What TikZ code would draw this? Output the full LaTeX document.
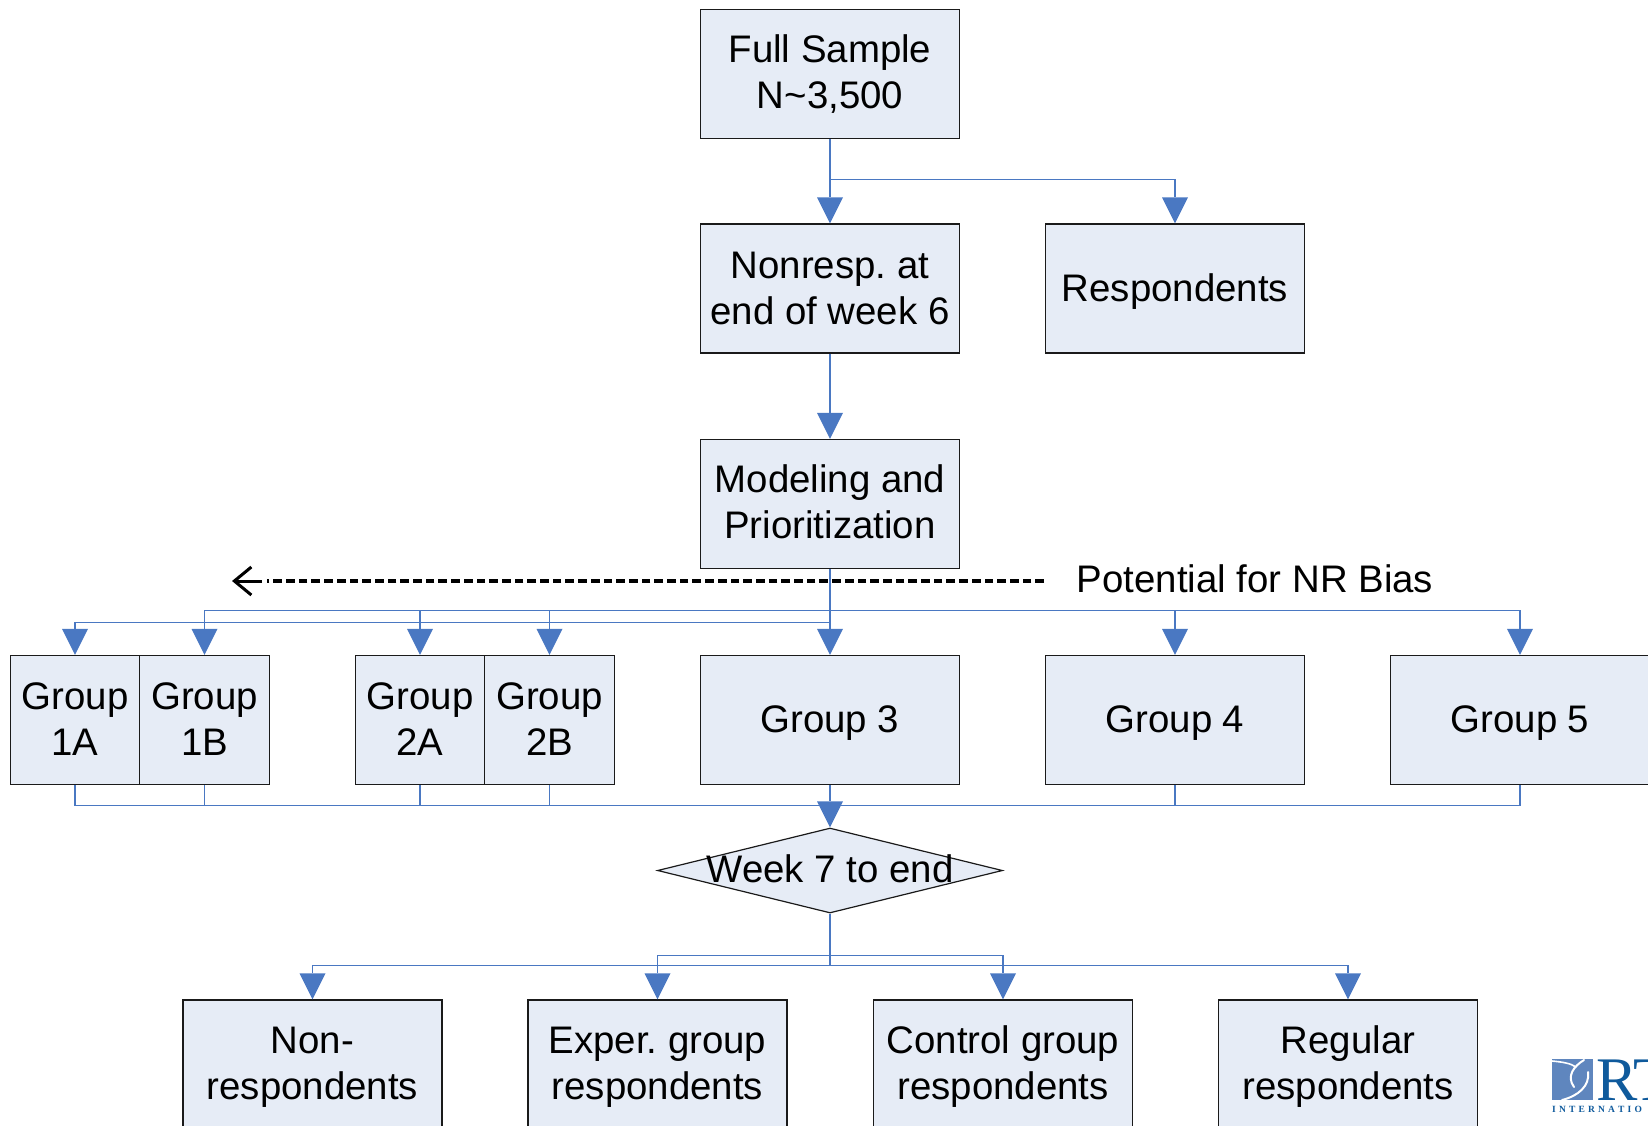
\documentclass[tikz,border=0pt]{standalone}
\usepackage{fontspec}
\setmainfont{Liberation Sans}
\newfontfamily\logofont{Liberation Serif}
\usetikzlibrary{arrows.meta,shapes.geometric}
\definecolor{boxfill}{HTML}{E6ECF6}
\definecolor{boxline}{HTML}{1A1A1A}
\definecolor{connblue}{HTML}{4A78C2}
\definecolor{logoblue}{HTML}{5F86BE}
\definecolor{logodark}{HTML}{0F5A9C}
\AtBeginDocument{\frenchspacing}
\newcommand{\mv}[2]{\raisebox{#1}[\height][\depth]{\begin{tabular}{@{}c@{}}#2\end{tabular}}}
\newcommand{\two}[1]{\mv{-2.5pt}{#1}}
\newcommand{\twog}[1]{\mv{-3.5pt}{#1}}
\newcommand{\one}[1]{\mv{-3.3pt}{#1}}
\tikzset{
  box/.style={draw=boxline,fill=boxfill,line width=1.2pt,minimum width=259pt,minimum height=129pt,inner sep=0pt,font=\fontsize{38.4}{46.3}\selectfont},
  halfbox/.style={box,minimum width=129.5pt},
  decision/.style={diamond,draw=boxline,fill=boxfill,line width=1.2pt,minimum width=345pt,minimum height=85pt,inner sep=0pt,aspect=4,font=\fontsize{38.4}{46.3}\selectfont},
  conn/.style={draw=connblue,line width=1.3pt,-{Triangle[width=26pt,length=26pt,fill=connblue,line width=0pt]}},
  stem/.style={draw=connblue,line width=1.3pt},
  dashline/.style={draw=black,line width=3.4pt,dash pattern=on 8.7pt off 4pt},
  openhead/.style={draw=black,line width=3pt,-{Straight Barb[width=28pt,length=17pt,line width=3pt]}},
  plain/.style={inner sep=0pt,font=\fontsize{38.4}{46.3}\selectfont}
}
\begin{document}
\begin{tikzpicture}[x=1pt,y=-1pt]
\useasboundingbox (0,0) rectangle (1648,1125);
\clip (0,0) rectangle (1648,1125);
\node[box] (full) at (830,74) {\two{Full Sample\\N\textasciitilde 3,500}};
\node[box] (nonresp) at (830,288.5) {\twog{Nonresp. at\\end of week 6}};
\node[box] (resp) at (1175,288.5) {\one{Respondents}};
\node[box] (model) at (830,504) {\two{Modeling and\\Prioritization}};
\node[halfbox] (g1a) at (75,720) {\twog{Group\\1A}};
\node[halfbox] (g1b) at (204.5,720) {\twog{Group\\1B}};
\node[halfbox] (g2a) at (420,720) {\twog{Group\\2A}};
\node[halfbox] (g2b) at (549.5,720) {\twog{Group\\2B}};
\node[box] (g3) at (830,720) {\one{Group 3}};
\node[box] (g4) at (1175,720) {\one{Group 4}};
\node[box] (g5) at (1520,720) {\one{Group 5}};
\node[decision] (week) at (830,870.5) {\makebox[0pt]{\mv{-3pt}{Week 7 to end}}};
\node[box] (o1) at (312.5,1064.5) {\two{Non-\\respondents}};
\node[box] (o2) at (657.5,1064.5) {\two{Exper. group\\respondents}};
\node[box] (o3) at (1003,1064.5) {\two{Control group\\respondents}};
\node[box] (o4) at (1348,1064.5) {\two{Regular\\respondents}};
\node[plain] (bias) at (1255,578.5) {Potential for NR Bias};
% top
\coordinate (splitA) at (830,179.5);
\draw[conn] (full.south) -- (nonresp.north);
\draw[conn] (splitA) -| (resp.north);
\draw[conn] (nonresp.south) -- (model.north);
% potential arrow
\coordinate (dashR) at (1044,581);
\coordinate (dashL) at (267,581);
\coordinate (headR) at (262,581);
\coordinate (headL) at (232,581);
\draw[dashline] (dashR) -- (dashL);
\draw[openhead] (headR) -- (headL);
% groups
\coordinate (busU) at (830,610.5);
\coordinate (busL) at (830,622.7);
\draw[conn] (model.south) -- (g3.north);
\draw[conn] (busL) -| (g1a.north);
\draw[conn] (busU) -| (g1b.north);
\draw[conn] (busU) -| (g2a.north);
\draw[conn] (busU) -| (g2b.north);
\draw[conn] (busU) -| (g4.north);
\draw[conn] (busU) -| (g5.north);
% merge
\coordinate (merge) at (830,805.7);
\foreach \g in {g1a,g1b,g2a,g2b,g4,g5}{\draw[stem] (\g.south) |- (merge);}
\draw[conn] (g3.south) -- (week.north);
% outcomes
\coordinate (outU) at (830,955.5);
\coordinate (outL) at (830,965.7);
\draw[stem] (week.south) -- (outL);
\draw[conn] (outU) -| (o2.north);
\draw[conn] (outU) -| (o3.north);
\draw[conn] (outL) -| (o1.north);
\draw[conn] (outL) -| (o4.north);
% logo
\fill[logoblue] (1552,1059) rectangle (1593,1100);
\draw[white,line width=1.6pt,line cap=round] (1552,1061) .. controls (1562,1062) and (1570,1063) .. (1576,1067);
\draw[white,line width=2pt,line cap=round] (1584,1060) .. controls (1574,1066) and (1566,1076) .. (1574,1087);
\draw[white,line width=2pt,line cap=round] (1588,1072) .. controls (1590,1086) and (1578,1096) .. (1562,1100);
\node[anchor=base west,inner sep=0pt,text=logodark,font=\logofont\fontsize{62}{62}\selectfont] (logotxt) at (1596,1100) {RT};
\node[anchor=base west,inner sep=0pt,text=logodark,font=\logofont\bfseries\fontsize{9.5}{10}\selectfont] (logosub) at (1552,1112.5) {I\,\,N\,\,T\,\,E\,\,R\,\,N\,\,A\,\,T\,\,I\,\,O};
\end{tikzpicture}
\end{document}
